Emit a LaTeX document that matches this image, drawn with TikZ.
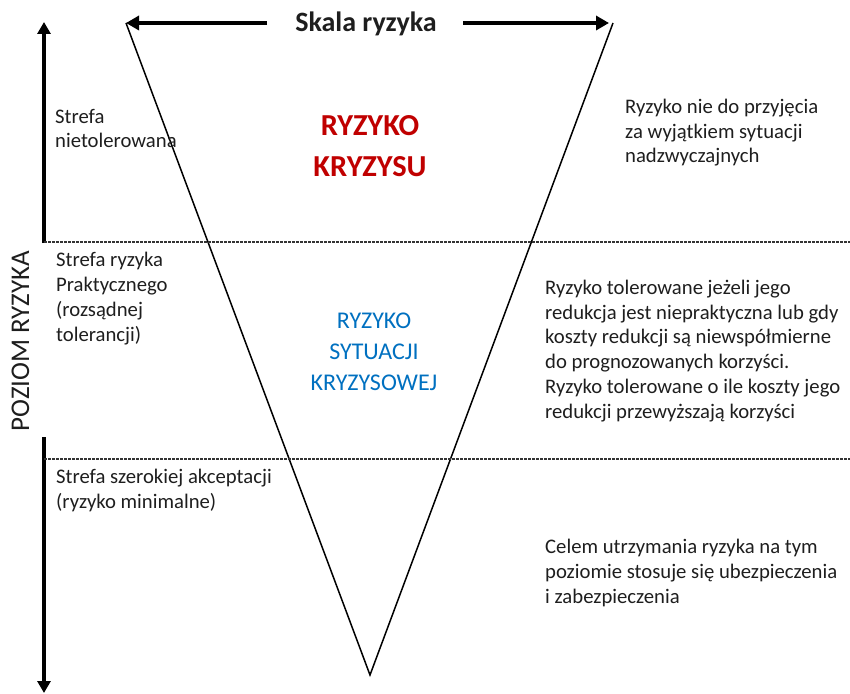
\documentclass[tikz,border=0pt]{standalone}
\usepackage{fontspec}
\setmainfont{Carlito}
\usetikzlibrary{arrows.meta}
\definecolor{crisisred}{RGB}{192,0,0}
\definecolor{crisisblue}{RGB}{0,112,192}
\definecolor{inkgray}{RGB}{30,30,30}
\begin{document}
\begin{tikzpicture}[x=1bp,y=-1bp,
  % multi-line nodes are placed by the baseline of their last line
  body/.style={inner sep=0pt, anchor=base west, align=left, text=inkgray,
    font=\fontsize{20.7bp}{24.7bp}\selectfont},
  bigarrow/.style={line width=4bp, -{Triangle[length=13bp,width=14bp]}},
  axisarrow/.style={line width=3.5bp, -{Triangle[length=12bp,width=13bp]}},
  zoneline/.style={line width=1.4bp, dash pattern=on 2.5bp off 1.5bp, black!80},
  wedge/.style={line width=1.5bp}]
\useasboundingbox (0,0) rectangle (850,694);

% inverted triangle of risk
\coordinate (tl) at (126,23);
\coordinate (tr) at (613,23);
\coordinate (bt) at (370,675);
\draw[wedge] (tl) -- (bt) -- (tr);

% risk scale heading with arrows
\node[inner sep=0pt, anchor=base, font=\fontsize{28bp}{32bp}\selectfont\bfseries, text=inkgray]
  (title) at (366,32) {Skala ryzyka};
\coordinate (la) at (267,23);
\coordinate (ra) at (463,23);
\coordinate (rtip) at (609,23);
\draw[bigarrow] (la) -- (tl);
\draw[bigarrow] (ra) -- (rtip);

% vertical risk level axis
\coordinate (axtop) at (44,22);
\coordinate (axa) at (44,243);
\coordinate (axb) at (44,437);
\coordinate (axbot) at (44,693);
\draw[axisarrow] (axa) -- (axtop);
\draw[axisarrow] (axb) -- (axbot);
\node[inner sep=0pt, anchor=base, rotate=90, text=inkgray,
  font=\fontsize{27bp}{30bp}\selectfont] (level) at (29,341) {POZIOM RYZYKA};

% zone borders
\coordinate (d1a) at (44,242);
\coordinate (d1b) at (850,242);
\coordinate (d2a) at (44,459);
\coordinate (d2b) at (850,459);
\draw[zoneline] (d1a) -- (d1b);
\draw[zoneline] (d2a) -- (d2b);

% zone names
\node[body] (z1) at (55,148) {Strefa\\nietolerowana};
\node[body] (z2) at (56,341) {Strefa ryzyka\\Praktycznego\\(rozsądnej\\tolerancji)};
\node[body] (z3) at (56,508) {Strefa szerokiej akceptacji\\(ryzyko minimalne)};

% risk categories inside the wedge
\node[inner sep=0pt, anchor=base, align=center, text=crisisred,
  font=\fontsize{30.5bp}{40bp}\selectfont\bfseries] (crisis) at (370,176) {RYZYKO\\KRYZYSU};
\node[inner sep=0pt, anchor=base, align=center, text=crisisblue,
  font=\fontsize{24bp}{31bp}\selectfont] (situation) at (374,390) {RYZYKO\\SYTUACJI\\KRYZYSOWEJ};

% descriptions
\node[body] (d1) at (625,163) {Ryzyko nie do przyjęcia\\za wyjątkiem sytuacji\\nadzwyczajnych};
\node[body] (d2) at (545,418) {Ryzyko tolerowane jeżeli jego\\redukcja jest niepraktyczna lub gdy\\koszty redukcji są niewspółmierne\\do prognozowanych korzyści.\\Ryzyko tolerowane o ile koszty jego\\redukcji przewyższają korzyści};
\node[body] (d3) at (545,603) {Celem utrzymania ryzyka na tym\\poziomie stosuje się ubezpieczenia\\i zabezpieczenia};
\end{tikzpicture}
\end{document}
